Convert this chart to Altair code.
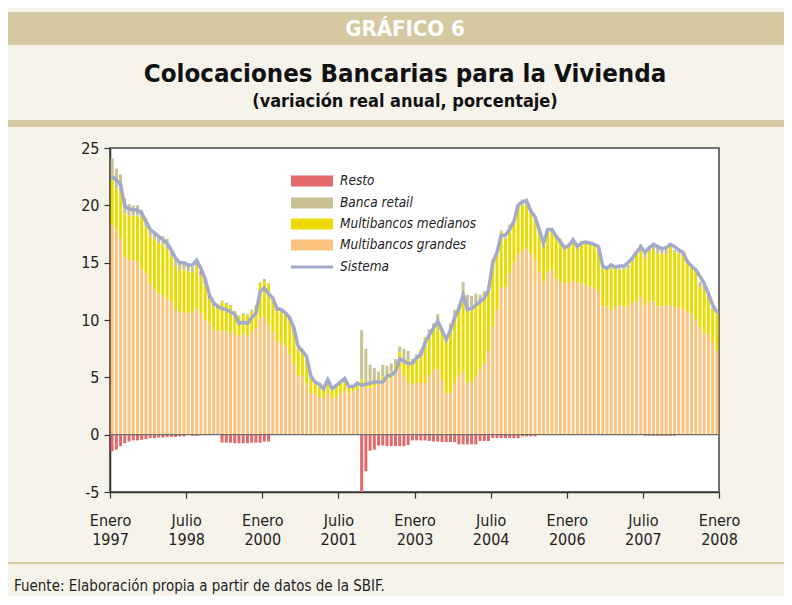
import json
import altair as alt
import pandas as pd

# ---------------- data ----------------
tick_pos = [0, 18, 36, 54, 72, 90, 108, 126, 144]
tick_month = ["Enero", "Julio", "Enero", "Julio", "Enero", "Julio", "Enero", "Julio", "Enero"]
tick_year = ["1997", "1998", "2000", "2001", "2003", "2004", "2006", "2007", "2008"]

series_names = ["Multibancos grandes", "Multibancos medianos", "Banca retail", "Resto"]
series_colors = ["#FBC37D", "#EADC00", "#C7C194", "#E26A6A"]

grandes = [
    18.3, 17.9, 17.1, 15.5, 15.2, 15.2, 15.1, 14.4, 14.1, 13.2,
    12.7, 12.3, 12.2, 11.8, 11.6, 10.9, 10.7, 10.7, 10.6, 10.7,
    11.0, 10.6, 10.0, 9.7, 9.1, 9.1, 9.0, 9.0, 8.9, 8.7,
    8.6, 8.8, 8.6, 9.0, 9.3, 10.2, 10.2, 9.6, 8.9, 8.1,
    8.0, 7.7, 7.0, 6.2, 5.2, 5.1, 4.5, 3.6, 3.6, 3.3,
    3.2, 3.6, 3.2, 3.3, 3.6, 3.9, 3.6, 3.8, 3.9, 4.1,
    4.1, 4.1, 4.2, 4.4, 4.5, 4.8, 4.9, 5.4, 5.7, 5.2,
    4.6, 4.4, 4.5, 4.5, 4.5, 5.2, 5.7, 5.7, 4.8, 3.6,
    3.6, 4.5, 5.1, 5.5, 4.5, 4.6, 5.1, 5.7, 6.2, 7.3,
    9.4, 10.9, 12.8, 12.9, 14.1, 15.0, 15.7, 16.1, 16.3, 15.8,
    15.2, 14.2, 13.4, 14.2, 14.4, 13.6, 13.4, 13.2, 13.3, 13.4,
    13.2, 13.2, 13.1, 12.9, 12.8, 12.5, 11.2, 11.2, 10.9, 11.2,
    11.3, 11.2, 11.2, 11.5, 11.6, 12.0, 11.3, 11.6, 11.6, 11.2,
    11.2, 11.3, 11.3, 11.2, 11.0, 11.0, 10.7, 10.5, 10.0, 9.4,
    8.9, 8.7, 8.1, 7.3,
]
medianos = [
    3.9, 3.6, 4.1, 3.8, 3.9, 3.9, 4.0, 4.5, 4.0, 4.1,
    4.3, 4.4, 4.4, 4.4, 3.9, 3.8, 3.6, 3.7, 3.6, 3.5,
    3.7, 3.2, 3.1, 2.1, 2.1, 1.9, 2.6, 2.4, 2.3, 2.0,
    1.7, 1.7, 1.8, 1.8, 1.9, 3.0, 3.2, 3.5, 2.9, 2.7,
    2.7, 2.8, 3.0, 2.7, 2.2, 2.1, 2.0, 1.5, 0.9, 0.9,
    0.7, 0.8, 0.7, 0.9, 1.0, 1.0, 0.6, 0.4, 0.5, 0.7,
    0.5, 0.5, 0.4, 0.3, 0.6, 0.4, 0.6, 0.7, 1.5, 1.3,
    1.9, 1.9, 2.1, 2.8, 3.9, 3.7, 3.6, 4.2, 4.3, 4.7,
    5.6, 5.8, 6.1, 7.1, 6.4, 6.6, 6.2, 5.9, 5.8, 5.6,
    5.8, 4.9, 4.9, 4.2, 3.9, 3.4, 4.3, 3.9, 3.8, 3.8,
    3.5, 3.7, 3.6, 3.5, 3.4, 3.7, 3.6, 3.2, 3.3, 3.4,
    3.4, 3.6, 3.6, 3.8, 3.8, 3.8, 3.3, 3.2, 3.7, 3.2,
    3.1, 3.2, 3.3, 3.6, 4.1, 4.0, 4.1, 4.4, 4.5, 4.6,
    4.6, 4.5, 5.3, 4.7, 4.8, 4.6, 4.3, 4.2, 4.4, 3.5,
    3.7, 3.5, 2.8, 3.2,
]
retail = [
    1.9, 1.7, 1.5, 1.3, 1.0, 0.9, 0.9, 0.7, 0.8, 0.6,
    0.5, 0.6, 0.7, 0.9, 0.5, 0.6, 0.7, 0.6, 0.4, 0.4,
    0.3, 0.2, 0.1, 0.1, 0.1, 0.0, 0.1, 0.1, 0.1, 0.1,
    0.1, 0.1, 0.1, 0.1, 0.1, 0.1, 0.2, 0.1, 0.0, 0.0,
    0.1, 0.0, 0.0, 0.0, 0.1, 0.0, 0.1, 0.0, 0.1, 0.1,
    0.0, 0.1, 0.0, 0.1, 0.1, 0.1, 0.1, 0.1, 0.0, 4.3,
    2.9, 1.5, 1.2, 0.8, 1.0, 0.8, 0.7, 0.5, 0.5, 1.0,
    0.8, 0.3, 0.4, 0.1, 0.1, 0.3, 0.4, 0.6, 0.1, 0.1,
    0.5, 0.6, 0.1, 0.7, 1.3, 0.9, 1.0, 0.6, 0.5, 0.1,
    0.1, 0.1, 0.1, 0.1, 0.3, 0.1, 0.1, 0.5, 0.5, 0.1,
    0.1, 0.1, 0.1, 0.2, 0.1, 0.1, 0.1, 0.1, 0.1, 0.1,
    0.1, 0.1, 0.1, 0.1, 0.1, 0.1, 0.1, 0.1, 0.1, 0.1,
    0.1, 0.2, 0.3, 0.2, 0.2, 0.6, 0.4, 0.2, 0.5, 0.6,
    0.6, 0.6, 0.1, 0.2, 0.2, 0.2, 0.1, 0.1, 0.1, 0.4,
    0.5, 0.2, 0.2, 0.2,
]
resto = [
    -1.45, -1.3, -1.0, -0.75, -0.6, -0.5, -0.5, -0.45, -0.4, -0.3,
    -0.3, -0.25, -0.25, -0.2, -0.2, -0.2, -0.15, -0.15, 0.2, -0.1,
    -0.1, 0.3, 0.3, 0.3, 0.2, 0.2, -0.7, -0.7, -0.7, -0.75,
    -0.75, -0.75, -0.75, -0.7, -0.7, -0.7, -0.6, -0.6, 0.25, 0.25,
    0.1, 0.1, 0.15, 0.3, 0.0, 0.0, 0.0, 0.0, 0.0, 0.0,
    0.0, 0.0, 0.0, 0.0, 0.0, 0.0, 0.0, 0.0, 0.2, -5.0,
    -3.2, -1.4, -1.3, -0.95, -0.95, -1.0, -1.0, -1.0, -1.0, -1.0,
    -0.9, -0.5, -0.5, -0.5, -0.5, -0.55, -0.6, -0.6, -0.65, -0.65,
    -0.65, -0.65, -0.85, -0.85, -0.85, -0.85, -0.85, -0.55, -0.55, -0.55,
    -0.3, -0.3, -0.3, -0.3, -0.3, -0.3, -0.3, -0.15, -0.15, -0.15,
    -0.15, 0.0, 0.0, 0.0, 0.0, 0.0, 0.0, 0.0, 0.0, 0.0,
    0.0, 0.0, 0.0, 0.0, 0.0, 0.0, 0.0, 0.0, 0.0, 0.0,
    0.0, 0.0, 0.0, 0.0, 0.0, 0.0, -0.1, -0.1, -0.1, -0.1,
    -0.1, -0.1, -0.1, -0.1, 0.0, 0.0, 0.0, 0.0, 0.0, 0.0,
    0.0, 0.0, 0.0, 0.0,
]
sistema = [
    22.5, 22.2, 21.8, 19.9, 19.7, 19.6, 19.6, 19.3, 18.6, 17.9,
    17.6, 17.3, 17.0, 16.7, 16.1, 15.4, 15.0, 15.0, 14.8, 14.8,
    15.2, 14.5, 13.6, 12.2, 11.5, 11.2, 11.0, 10.9, 10.7, 10.5,
    9.7, 9.8, 9.7, 10.2, 10.6, 12.5, 12.8, 12.3, 11.9, 11.0,
    10.9, 10.6, 10.2, 9.3, 7.7, 7.3, 6.8, 5.1, 4.6, 4.4,
    4.0, 4.8, 4.0, 4.3, 4.6, 4.9, 4.2, 4.2, 4.5, 4.3,
    4.4, 4.5, 4.6, 4.6, 4.6, 5.1, 5.2, 5.5, 6.6, 6.4,
    6.2, 6.2, 6.7, 7.0, 8.0, 8.7, 9.3, 9.9, 9.1, 8.3,
    9.1, 10.2, 11.0, 12.2, 10.9, 11.0, 11.3, 11.6, 11.9, 12.6,
    15.0, 15.9, 17.4, 17.4, 17.9, 18.6, 20.0, 20.3, 20.4, 19.5,
    19.0, 17.9, 16.7, 17.9, 17.9, 17.3, 16.8, 16.3, 16.5, 17.0,
    16.4, 16.7, 16.8, 16.7, 16.6, 16.4, 14.7, 14.5, 14.8, 14.6,
    14.7, 14.7, 15.0, 15.4, 15.9, 16.4, 15.9, 16.3, 16.6, 16.4,
    16.2, 16.3, 16.6, 16.4, 16.1, 15.9, 15.1, 14.7, 14.4, 13.8,
    13.2, 12.3, 11.3, 10.7,
]

legend_labels = ["Resto", "Banca retail", "Multibancos medianos", "Multibancos grandes", "Sistema"]

# ---------------- styling ----------------
BG = "#F6F3EB"
TAN = "#D5C9A2"
LINE_COLOR = "#A3ABCA"
NARROW = "Liberation Sans Narrow, Arial Narrow, DejaVu Sans Condensed, sans-serif"
W, H = 609, 344

# ---------------- tables ----------------
n = len(sistema)
rows = []
for i in range(n):
    for k, (name, vals) in enumerate(zip(series_names, [grandes, medianos, retail, resto])):
        rows.append({"xpos": i + 0.5, "serie": name, "valor": vals[i], "orden": k})
bars_df = pd.DataFrame(rows)
line_df = pd.DataFrame({"xpos": [i + 0.5 for i in range(n)], "sistema": sistema})

label_arr = json.dumps([[m, y] for m, y in zip(tick_month, tick_year)])

x_scale = alt.Scale(domain=[0, 144], nice=False, zero=False, padding=0)
y_scale = alt.Scale(domain=[-5, 25], nice=False, padding=0)

bars = alt.Chart(bars_df).mark_bar(size=3).encode(
    x=alt.X("xpos:Q", scale=x_scale, axis=alt.Axis(
        values=tick_pos, labelExpr=f"{label_arr}[round(datum.value/18)]",
        title=None, grid=False, tickSize=6, labelPadding=14, labelLineHeight=19,
        labelFlush=False, labelOverlap=False, labelFont=NARROW, labelFontSize=16,
        labelColor="#222", domainColor="#333", tickColor="#333", domainWidth=1.5, tickWidth=1.2)),
    y=alt.Y("valor:Q", stack="zero", scale=y_scale, axis=alt.Axis(
        values=[-5, 0, 5, 10, 15, 20, 25], title=None, grid=False, tickSize=6,
        labelExpr="replace(datum.label, '\u2212', '-')",
        labelFont=NARROW, labelFontSize=16, labelColor="#222", labelPadding=5,
        domainColor="#333", tickColor="#333", domainWidth=1.5, tickWidth=1.2)),
    color=alt.Color("serie:N", scale=alt.Scale(domain=series_names, range=series_colors), legend=None),
    order=alt.Order("orden:Q"),
)

zero = alt.Chart(pd.DataFrame({"y": [0]})).mark_rule(color="#6E6E6E", strokeWidth=1.2).encode(
    y=alt.Y("y:Q", scale=y_scale))

line = alt.Chart(line_df).mark_line(color=LINE_COLOR, strokeWidth=3.5).encode(
    x=alt.X("xpos:Q", scale=x_scale), y=alt.Y("sistema:Q", scale=y_scale))

one = pd.DataFrame({"a": [0]})

def rect(x1, x2, y1, y2, color):
    return alt.Chart(one).mark_rect(color=color).encode(
        x=alt.value(x1), x2=alt.value(x2), y=alt.value(y1), y2=alt.value(y2))

def text(t, x, y, size, color="#111", weight="normal", align="center", font=NARROW, style="normal"):
    return alt.Chart(one).mark_text(
        text=t, font=font, fontSize=size, fontWeight=weight, fontStyle=style,
        color=color, align=align, baseline="middle").encode(x=alt.value(x), y=alt.value(y))

# legend (drawn inside the plot)
leg_colors = [series_colors[3], series_colors[2], series_colors[1], series_colors[0]]
leg_y = [33, 55, 76, 97, 119]
legend_layers = []
for k in range(4):
    legend_layers.append(rect(181, 223, leg_y[k] - 5.5, leg_y[k] + 5.5, leg_colors[k]))
legend_layers.append(alt.Chart(one).mark_rule(color=LINE_COLOR, strokeWidth=3).encode(
    x=alt.value(181), x2=alt.value(223), y=alt.value(leg_y[4])))
for k, lab in enumerate(legend_labels):
    legend_layers.append(text(lab, 230, leg_y[k], 13.5, color="#222", align="left", style="italic"))

# page decorations
deco = [
    rect(-102, 674, -136, -103, TAN),
    text("GRÁFICO 6", 295, -119, 22, color="white", weight="bold"),
    text("Colocaciones Bancarias para la Vivienda", 295, -74, 25.6, weight="bold"),
    text("(variación real anual, porcentaje)", 295, -46, 18, weight="bold"),
    rect(-102, 674, -28, -21, TAN),
    rect(-102, 674, 414, 416, TAN),
    text("Fuente: Elaboración propia a partir de datos de la SBIF.", -96, 438, 15, color="#222", align="left"),
]

chart = alt.layer(*deco, bars, zero, line, *legend_layers).properties(
    width=W, height=H,
    background=BG,
    autosize=alt.AutoSizeParams(type="none"),
    padding={"left": 102, "top": 140, "right": 65, "bottom": 104},
).configure_view(fill="white", stroke="#444", strokeWidth=1.5)

chart.save("out.html", embed_options={"renderer": "svg", "actions": False})
